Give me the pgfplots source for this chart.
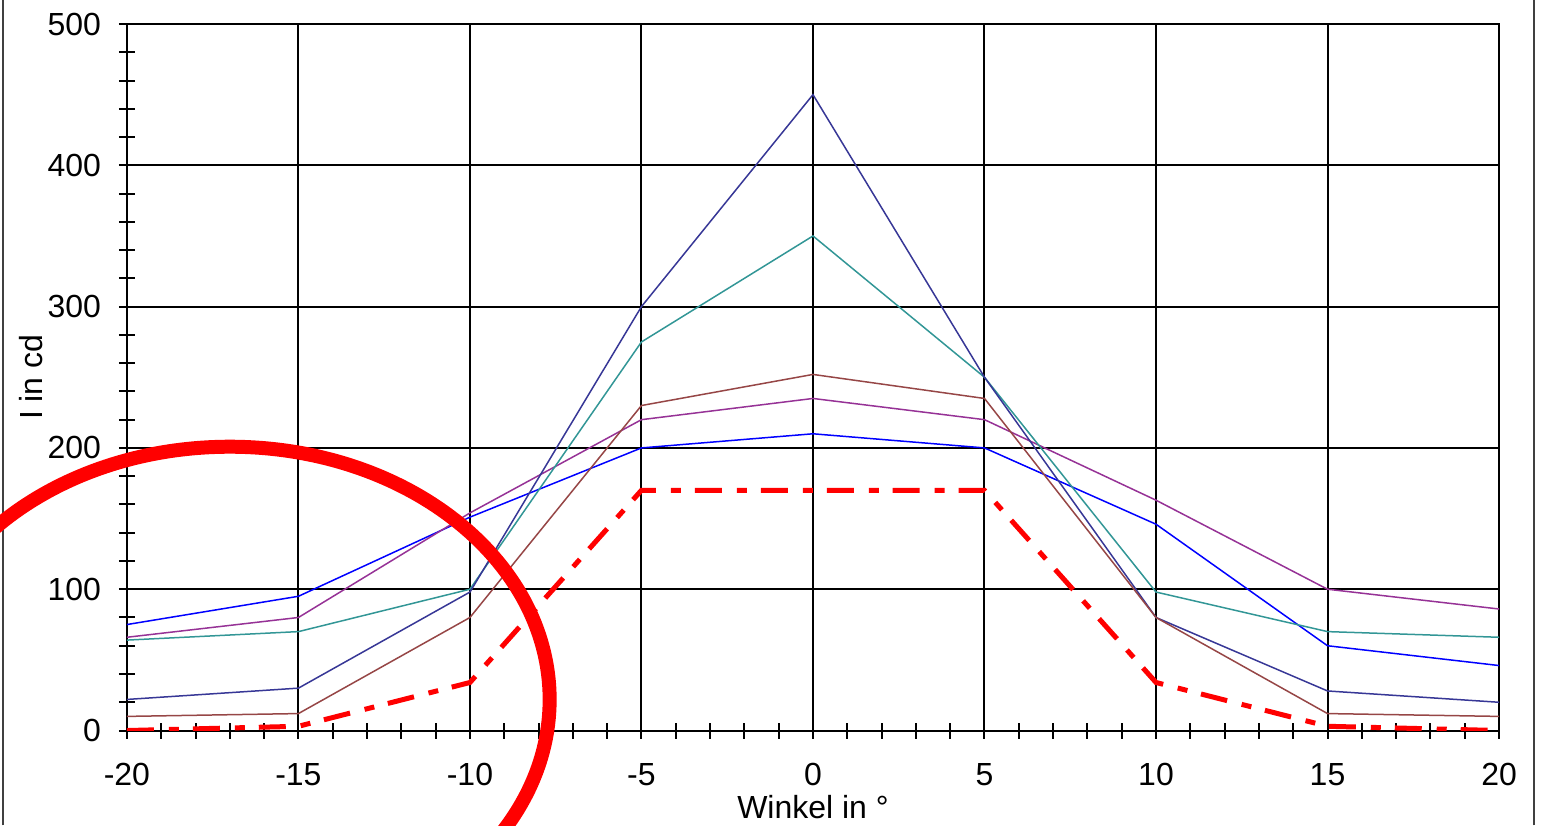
\documentclass[border=0pt]{standalone}
\usepackage{fontspec}
\setmainfont{Liberation Sans}
\usepackage{pgfplots}
\pgfplotsset{compat=1.18}
\definecolor{cblue}{RGB}{0,0,255}
\definecolor{cnavy}{RGB}{55,55,150}
\definecolor{cteal}{RGB}{50,150,150}
\definecolor{cbrown}{RGB}{150,70,70}
\definecolor{cpurple}{RGB}{150,50,150}
\begin{document}
\begin{tikzpicture}
  \begin{axis}[
      scale only axis,
      width=686.5pt, height=353.5pt,
      xmin=-20, xmax=20,
      ymin=0, ymax=500,
      xtick={-20,-15,...,20},
      ytick={0,100,...,500},
      minor x tick num=4,
      minor y tick num=4,
      tick pos=left,
      tick align=center,
      major tick length=8pt,
      minor tick length=8pt,
      grid=major,
      major grid style={black, line width=1pt},
      axis line style={black, line width=1pt},
      every tick/.style={black, line width=1pt},
      font=\fontsize{16}{18}\selectfont,
      /pgf/number format/assume math mode=true,
      xticklabel style={yshift=-9pt},
      yticklabel style={xshift=-5.5pt},
      xlabel={Winkel in °},
      ylabel={I in cd},
      xlabel style={at={(axis description cs:0.5,0)}, anchor=center, yshift=-38.5pt},
      ylabel style={at={(axis description cs:0,0.5)}, anchor=center, yshift=48pt},
    ]
    \addplot[cblue, line width=0.75pt] coordinates {
      (-20,75) (-15,95) (-10,151) (-5,200) (0,210) (5,200) (10,146) (15,60) (20,46)
    };
    \addplot[cpurple, line width=0.75pt] coordinates {
      (-20,66) (-15,80) (-10,154) (-5,220) (0,235) (5,220) (10,163) (15,100) (20,86)
    };
    \addplot[cteal, line width=0.75pt] coordinates {
      (-20,64) (-15,70) (-10,100) (-5,275) (0,350) (5,250) (10,98) (15,70) (20,66)
    };
    \addplot[cnavy, line width=0.75pt] coordinates {
      (-20,22) (-15,30) (-10,98) (-5,300) (0,450) (5,250) (10,80) (15,28) (20,20)
    };
    \addplot[cbrown, line width=0.75pt] coordinates {
      (-20,10) (-15,12) (-10,80) (-5,230) (0,252) (5,235) (10,80) (15,12) (20,10)
    };
    \addplot[red, line width=2.5pt, dash pattern=on 13.5pt off 7.5pt on 5pt off 7pt] coordinates {
      (-20,0) (-15,3) (-10,34) (-5,170) (0,170) (5,170) (10,34) (15,3) (20,0)
    };
  \end{axis}
  \draw[line width=1pt, black!75] (-62pt,-47.5pt) -- (-62pt,365.5pt);
  \draw[line width=1pt, black!75] (704pt,-47.5pt) -- (704pt,365.5pt);
  \draw[red, line width=7pt] (51.5pt,15.5pt) ellipse [x radius=160pt, y radius=126.5pt];
  \pgfresetboundingbox
  \useasboundingbox (-63.5pt,-47.5pt) rectangle (707.5pt,365.5pt);
\end{tikzpicture}
\end{document}
